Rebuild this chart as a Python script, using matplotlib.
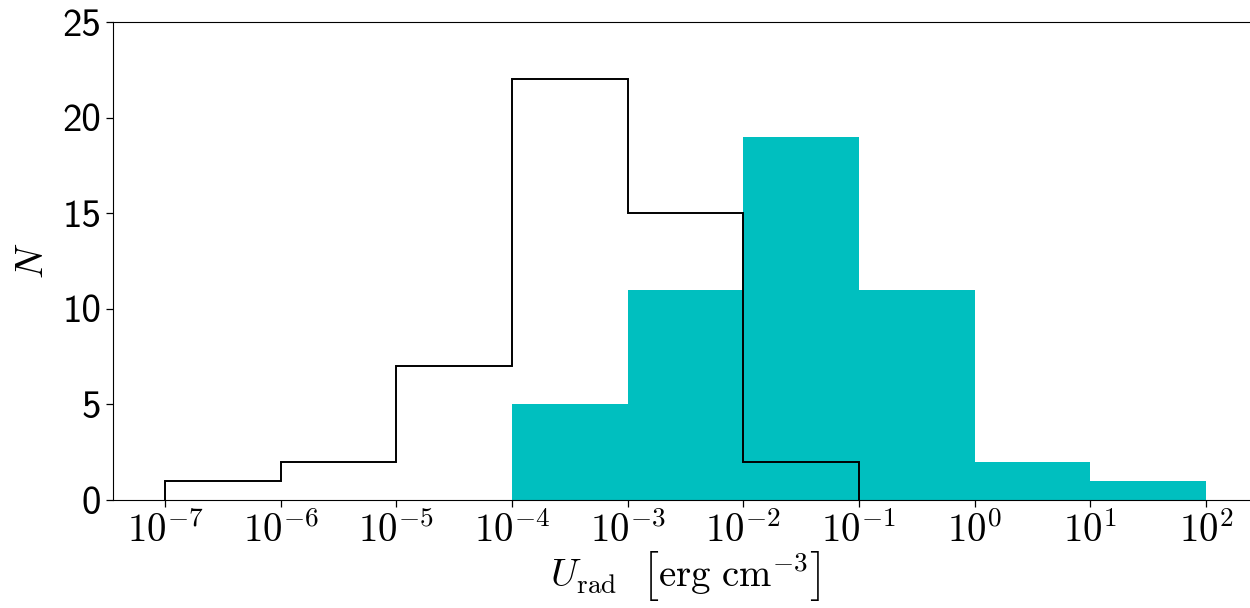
import numpy as np
import matplotlib
matplotlib.use("Agg")
import matplotlib.pyplot as plt
from matplotlib.ticker import FixedLocator, FuncFormatter, NullLocator

# Data
edges_filled = [1e-4, 1e-3, 1e-2, 1e-1, 1e0, 1e1, 1e2]
counts_filled = [5, 11, 19, 11, 2, 1]
edges_step = [1e-7, 1e-6, 1e-5, 1e-4, 1e-3, 1e-2, 1e-1]
counts_step = [1, 2, 7, 22, 15, 2]
xtick_exponents = [-7, -6, -5, -4, -3, -2, -1, 0, 1, 2]
ytick_values = [0, 5, 10, 15, 20, 25]

plt.rcParams['mathtext.fontset'] = 'cm'
plt.rcParams['font.family'] = ['cmss10', 'DejaVu Sans']
plt.rcParams['axes.unicode_minus'] = False

fig = plt.figure(figsize=(12.5, 6.08), dpi=100)
ax = fig.add_axes([113/1250, 1 - 500/608, (1258 - 113)/1250, (500 - 22)/608])

ax.stairs(counts_filled, edges_filled, fill=True, color='c', linewidth=0)
ax.stairs(counts_step, edges_step, color='k', linewidth=1.4, baseline=0)

ax.set_xscale('log')
ax.set_xlim(10**-7.45, 10**2.45)
ax.set_ylim(0, 25)

ax.xaxis.set_major_locator(FixedLocator([10.0**e for e in xtick_exponents]))
ax.xaxis.set_minor_locator(NullLocator())
ax.xaxis.set_major_formatter(FuncFormatter(lambda v, p: r'$10^{%d}$' % int(round(np.log10(v)))))
ax.yaxis.set_major_locator(FixedLocator(ytick_values))

ax.spines['right'].set_visible(False)
ax.tick_params(axis='both', labelsize=28, length=5, width=0.9)
for lbl in ax.get_yticklabels():
    lbl.set_fontfamily('cmss10')

ax.set_xlabel(r'$U_{\rm rad}\ \ \left[{\rm erg\ cm}^{-3}_{_{}}\right]$', fontsize=28, labelpad=0)
ax.set_ylabel(r'$N$', fontsize=28, labelpad=8)

fig.savefig('out.png', dpi=100)
